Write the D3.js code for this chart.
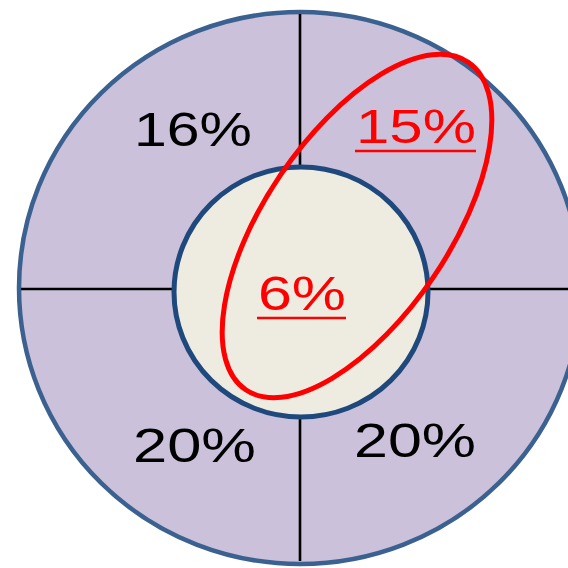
<!DOCTYPE html>
<html>
<head>
<meta charset="utf-8">
<script src="https://cdn.jsdelivr.net/npm/d3@7"></script>
<style>
  html, body { margin: 0; padding: 0; background: #fff; }
</style>
</head>
<body>
<div id="chart"></div>
<script>
//chart data
var quadrants = ["topLeft", "topRight", "bottomLeft", "bottomRight"];
var quadrantValues = [16, 15, 20, 20];
var quadrantHighlight = [false, true, false, false];
var innerValue = 6;
var innerHighlight = true;

//svg dimensions
var svgWidth = 568;
var svgHeight = 568;

//centre of the big circle
var cx = 300;
var cy = 289;

var svg = d3.select("#chart").append("svg")
    .attr("width", svgWidth)
    .attr("height", svgHeight);

var fmt = function(v) { return v + "%"; };

//outer circle
svg.append("ellipse")
    .attr("cx", cx)
    .attr("cy", cy - 1)
    .attr("rx", 281)
    .attr("ry", 276)
    .attr("fill", "#cbc1da")
    .attr("stroke", "#3b6190")
    .attr("stroke-width", 4.5);

//divider lines
svg.append("line")
    .attr("x1", cx).attr("x2", cx)
    .attr("y1", 14).attr("y2", 561)
    .attr("stroke", "#000").attr("stroke-width", 2.6);
svg.append("line")
    .attr("x1", 21).attr("x2", svgWidth)
    .attr("y1", cy).attr("y2", cy)
    .attr("stroke", "#000").attr("stroke-width", 2.6);

//inner circle
svg.append("ellipse")
    .attr("cx", cx + 1)
    .attr("cy", cy + 3)
    .attr("rx", 127)
    .attr("ry", 125)
    .attr("fill", "#eeebe1")
    .attr("stroke", "#1f497d")
    .attr("stroke-width", 5);

//label positions per quadrant (centre x, baseline y, text width)
var labelPos = {
    topLeft:     {x: 193, y: 146, w: 112},
    topRight:    {x: 416, y: 143, w: 114},
    bottomLeft:  {x: 194.5, y: 462, w: 117},
    bottomRight: {x: 415, y: 457, w: 116}
};
var innerPos = {x: 302, y: 310, w: 82};

var labels = quadrants.map(function(q, i) {
    return {pos: labelPos[q], value: quadrantValues[i], hot: quadrantHighlight[i]};
});
labels.push({pos: innerPos, value: innerValue, hot: innerHighlight});

//highlight ellipse
svg.append("ellipse")
    .attr("cx", 0).attr("cy", 0)
    .attr("rx", 198).attr("ry", 92)
    .attr("transform", "translate(357,226) rotate(-55.8)")
    .attr("fill", "none")
    .attr("stroke", "#ff0000")
    .attr("stroke-width", 5);

//labels
svg.selectAll(".pct")
    .data(labels)
    .enter()
    .append("text")
    .classed("pct", true)
    .attr("x", function(d) { return d.pos.x - d.pos.w / 2 - 3; })
    .attr("y", function(d) { return d.pos.y; })
    .attr("font-family", "'Liberation Sans', Arial, sans-serif")
    .attr("font-size", "47.5px")
    .attr("textLength", function(d) { return d.pos.w + 6; })
    .attr("lengthAdjust", "spacingAndGlyphs")
    .attr("fill", function(d) { return d.hot ? "#ff0000" : "#000"; })
    .text(function(d) { return fmt(d.value); });

//underline for highlighted values
svg.selectAll(".uline")
    .data(labels.filter(function(d) { return d.hot; }))
    .enter()
    .append("line")
    .classed("uline", true)
    .attr("x1", function(d) { return d.pos.x - d.pos.w / 2 - 4; })
    .attr("x2", function(d) { return d.pos.x + d.pos.w / 2 + 3; })
    .attr("y1", function(d) { return d.pos.y + 8; })
    .attr("y2", function(d) { return d.pos.y + 8; })
    .attr("stroke", "#ff0000")
    .attr("stroke-width", 2.5);
</script>
</body>
</html>
